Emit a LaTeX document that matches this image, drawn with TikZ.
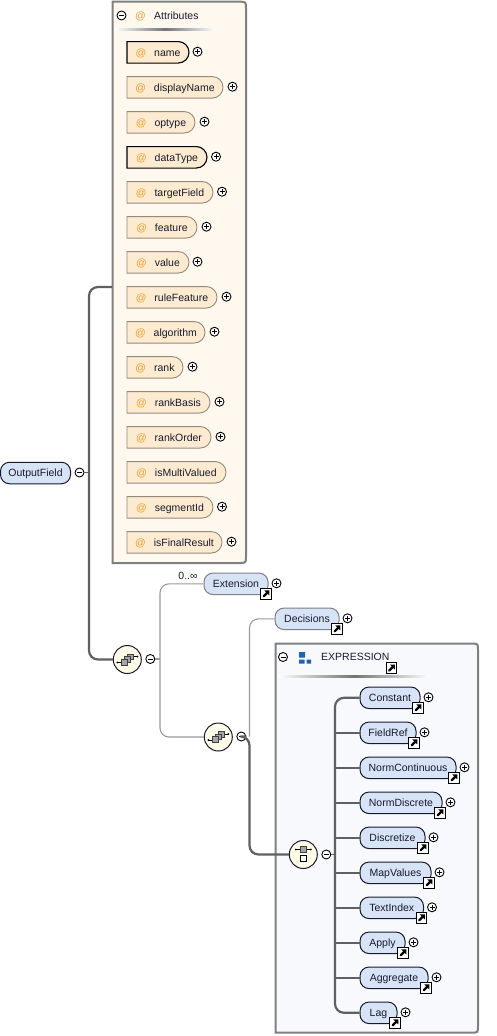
\documentclass[tikz,border=0pt]{standalone}
\usepackage{fontspec}
\setmainfont{Liberation Sans}
\usetikzlibrary{shapes.misc}
\definecolor{txt}{HTML}{1A1A2E}
\definecolor{attrfill}{HTML}{FCEBD0}
\definecolor{attrline}{HTML}{96897A}
\definecolor{attrbg}{HTML}{FFF8EE}
\definecolor{elemfill}{HTML}{D7E3F6}
\definecolor{exprbg}{HTML}{F7F9FD}
\definecolor{orangeat}{HTML}{EC9F2E}
\definecolor{boxline}{HTML}{808080}
\definecolor{conn}{HTML}{606060}
\definecolor{thinconn}{HTML}{9A9A9A}
\definecolor{circfill}{HTML}{FFFBE6}
\definecolor{bluesq}{HTML}{1F63AE}
\tikzset{
  every node/.style={font=\fontsize{10.5}{12}\selectfont,text=txt,inner sep=0pt},
  pilltext/.style={text height=9pt,text depth=1.5pt},
  attrpill/.style={rounded rectangle,rounded rectangle west arc=none,minimum height=21.5pt,fill=attrfill,draw=attrline,line width=.9pt},
  attrreq/.style={attrpill,draw=black,line width=1.1pt},
  elempill/.style={rectangle,rounded corners=9pt,minimum height=21.5pt,fill=elemfill,draw=#1,line width=1pt,pilltext},
  elempill/.default={txt},
  togglebase/.style={circle,minimum size=9pt,draw=black,line width=.9pt,fill=white},
  minusbtn/.style={togglebase,path picture={\draw[line width=.8pt] ([xshift=-2.5pt]path picture bounding box.center) -- ([xshift=2.5pt]path picture bounding box.center);}},
  plusbtn/.style={togglebase,path picture={\draw[line width=.8pt] ([xshift=-2.5pt]path picture bounding box.center) -- ([xshift=2.5pt]path picture bounding box.center) ([yshift=-2.5pt]path picture bounding box.center) -- ([yshift=2.5pt]path picture bounding box.center);}},
  linkbtn/.style={rectangle,minimum size=10.5pt,draw=black,line width=1pt,fill=white,path picture={
     \fill[black] ([shift={(-3.2pt,-3.4pt)}]path picture bounding box.center) -- ([shift={(-1.6pt,-3.4pt)}]path picture bounding box.center) -- ([shift={(1.8pt,0pt)}]path picture bounding box.center) -- ([shift={(3.4pt,-1.6pt)}]path picture bounding box.center) -- ([shift={(3.4pt,3.4pt)}]path picture bounding box.center) -- ([shift={(-1.6pt,3.4pt)}]path picture bounding box.center) -- ([shift={(.2pt,1.6pt)}]path picture bounding box.center) -- ([shift={(-3.2pt,-1.8pt)}]path picture bounding box.center) -- cycle;}},
  compositor/.style={circle,minimum size=28pt,fill=circfill,draw=txt,line width=1pt},
  thickconn/.style={draw=conn,line width=2.2pt,rounded corners=9pt},
  thinconn/.style={draw=thinconn,line width=1.1pt,rounded corners=9pt},
  containerbox/.style={draw=boxline,line width=2pt},
  graysq/.style={fill=boxline!70,draw=black!75,line width=.7pt},
  whitesq/.style={fill=white,draw=black,line width=.9pt},
  wire/.style={draw=black,line width=.9pt},
  headerline/.style={left color=white,right color=white,middle color=black!55,draw=none},
}
% style, name, text, right edge, y
\newcommand{\attrnode}[5][attrpill]{%
  \pgfmathsetmacro{\pillw}{#4-127}\pgfmathsetmacro{\pillx}{(#4+127)/2}%
  \node[#1,minimum width=\pillw pt,label={[pilltext]center:{\textcolor{orangeat}{@}\hspace{8pt}#3}}] (#2) at (\pillx,#5+.3) {};%
}
\newcommand{\attrplus}[3]{\node[plusbtn] (#1p) at (#2+8.5,#3-.3) {};}
% name, text, left, right, y, border colour
\newcommand{\elemnode}[6]{%
  \pgfmathsetmacro{\pillw}{#4-#3}\pgfmathsetmacro{\pillx}{(#4+#3)/2}%
  \node[elempill=#6,minimum width=\pillw pt] (#1) at (\pillx,#5+.3) {#2};%
  \node[linkbtn] (#1l) at (#4-2,#5+10.3) {};%
  \node[plusbtn] (#1p) at (#4+8.5,#5-.2) {};%
}
\begin{document}
\begin{tikzpicture}[x=1pt,y=-1pt]
\useasboundingbox (0,0) rectangle (496,1036);
\fill[white] (0,0) rectangle (496,1036);

% --- containers
\draw[containerbox,fill=attrbg] (112.7,563) -- (112.7,1.7) -- (239,1.7) .. controls (246,1.7) .. (246,8.7) -- (246,556) .. controls (246,563) .. (239,563) -- cycle;
\coordinate (attrsin) at (112,287);
\draw[containerbox,fill=exprbg] (275.5,1032.7) -- (275.5,643.5) -- (471,643.5) .. controls (478,643.5) .. (478,650.5) -- (478,1025.7) .. controls (478,1032.7) .. (471,1032.7) -- cycle;

% --- attribute header
\node[minusbtn] (attrmin) at (121.5,15.5) {};
\node[text=orangeat,pilltext] (attrat) at (140.5,16) {@};
\node[anchor=west,pilltext] (attrhead) at (154,16) {Attributes};
\path[headerline] (115,28.7) rectangle (215,30.2);

% --- attributes
\attrnode[attrreq]{name}{name}{189}{52}\attrplus{name}{189}{52}
\attrnode{displayName}{displayName}{223}{87}\attrplus{displayName}{224}{87}
\attrnode{optype}{optype}{195}{122}\attrplus{optype}{196}{122}
\attrnode[attrreq]{dataType}{dataType}{207}{157}\attrplus{dataType}{207.5}{157}
\attrnode{targetField}{targetField}{213}{192}\attrplus{targetField}{213.5}{192}
\attrnode{feature}{feature}{197}{227}\attrplus{feature}{198}{227}
\attrnode{value}{value}{189}{262}\attrplus{value}{189}{262}
\attrnode{ruleFeature}{ruleFeature}{217}{297}\attrplus{ruleFeature}{218}{297}
\attrnode{algorithm}{algorithm}{205}{332}\attrplus{algorithm}{206}{332}
\attrnode{rank}{rank}{183}{367}\attrplus{rank}{184}{367}
\attrnode{rankBasis}{rankBasis}{210}{402}\attrplus{rankBasis}{211}{402}
\attrnode{rankOrder}{rankOrder}{211}{437}\attrplus{rankOrder}{212}{437}
\attrnode{isMultiValued}{isMultiValued}{226}{472}
\attrnode{segmentId}{segmentId}{213}{507}\attrplus{segmentId}{213.5}{507}
\attrnode{isFinalResult}{isFinalResult}{222}{542}\attrplus{isFinalResult}{223}{542}

% --- root
\node[elempill,minimum width=70pt] (root) at (35.5,473) {OutputField};
\node[minusbtn] (rootmin) at (79.5,472.5) {};

% --- compositors
\node[compositor] (seqa) at (127.3,659.5) {};
\node[minusbtn] (seqamin) at (150.3,659) {};
\node[compositor] (seqb) at (218.3,737) {};
\node[minusbtn] (seqbmin) at (241.3,736.5) {};
\node[compositor] (choice) at (303.3,854.5) {};
\node[minusbtn] (choicemin) at (326.3,854.5) {};

% --- elements
\elemnode{extension}{Extension}{204}{268}{583.5}{boxline}
\node[pilltext] (occurs) at (188,576) {0..∞};
\elemnode{decisions}{Decisions}{275}{339}{618.5}{boxline}

% --- expression header
\node[minusbtn] (exprmin) at (283,657) {};
\fill[bluesq] (299,652) rectangle (305,657.5) (299,659.5) rectangle (304.5,663.5) (306.5,659.5) rectangle (311,663.5);
\node[anchor=west,pilltext] (exprhead) at (321,657) {EXPRESSION};
\node[linkbtn] (exprlink) at (391.5,668) {};
\path[headerline] (278,675.5) rectangle (430,677);

\elemnode{constant}{Constant}{360}{420}{697.5}{txt}
\elemnode{fieldref}{FieldRef}{360}{416}{732.5}{txt}
\elemnode{normcont}{NormContinuous}{360}{456}{767.5}{txt}
\elemnode{normdisc}{NormDiscrete}{360}{442}{802.5}{txt}
\elemnode{discretize}{Discretize}{360}{425}{837.5}{txt}
\elemnode{mapvalues}{MapValues}{360}{431}{872.5}{txt}
\elemnode{textindex}{TextIndex}{360}{423.5}{907.5}{txt}
\elemnode{apply}{Apply}{360}{405}{942.5}{txt}
\elemnode{aggregate}{Aggregate}{360}{428}{977.5}{txt}
\elemnode{lag}{Lag}{360}{397}{1012.5}{txt}

% --- connectors
\coordinate (trunk) at (335,697.5);
\draw[thickconn] (attrsin) -- (89,287) -- (89,659.5) -- (seqa.west);
\draw[draw=conn,line width=1pt] (rootmin.east) -- (89,472.5);
\draw[thinconn] (extension.west) -- (160,583.8) -- (160,737) -- (seqb.west);
\draw[draw=thinconn,line width=1.1pt] (seqamin.east) -- (160,659);
\draw[thinconn] (decisions.west) -- (249.5,618.8) -- (249.5,736.5);
\draw[thickconn] (seqbmin.east) -- (249.5,736.5) -- (249.5,854.5) -- (choice.west);
\draw[thickconn] (constant.west) -- (335,697.8) -- (335,1012.8) -- (lag.west);
\foreach \n in {fieldref,normcont,normdisc,discretize,mapvalues,textindex,apply,aggregate}
  \draw[draw=conn,line width=2pt] (trunk |- \n.west) -- (\n.west);
\draw[draw=conn,line width=1pt] (choicemin.east) -- (335,854.5);

% --- compositor icons
\begin{scope}[shift={(seqa.center)}]
  \draw[wire] (-10,3) -- (-6,3) (6,-3) -- (10,-3);
  \fill[black] (-10,3) circle (1pt) (10,-3) circle (1pt);
  \draw[graysq] (0,-5.5) rectangle (6,0);
  \draw[graysq] (-2.7,-3) rectangle (3.3,2.7);
  \draw[graysq] (-6,-.5) rectangle (0,5.5);
\end{scope}
\begin{scope}[shift={(seqb.center)}]
  \draw[wire] (-10,3) -- (-6,3) (6,-3) -- (10,-3);
  \fill[black] (-10,3) circle (1pt) (10,-3) circle (1pt);
  \draw[graysq] (0,-5.5) rectangle (6,0);
  \draw[graysq] (-2.7,-3) rectangle (3.3,2.7);
  \draw[graysq] (-6,-.5) rectangle (0,5.5);
\end{scope}
\begin{scope}[shift={(choice.center)}]
  \draw[wire] (-7.5,-5) -- (7.5,-5);
  \fill[black] (-7.5,-5) circle (1pt) (7.5,-5) circle (1pt);
  \draw[graysq] (-3.3,-8.3) rectangle (3.3,-1.7);
  \draw[whitesq] (-3.3,.8) rectangle (3.3,7.4);
\end{scope}
\end{tikzpicture}
\end{document}
